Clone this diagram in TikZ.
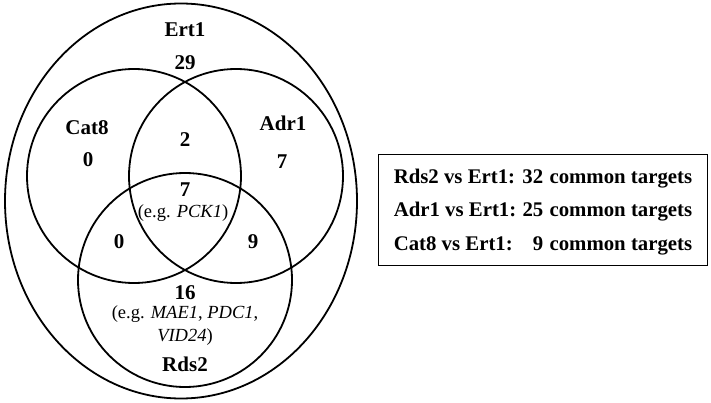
\documentclass[tikz,border=0pt]{standalone}
\usepackage{fontspec}
\setmainfont{Liberation Serif}
\usetikzlibrary{shapes.geometric}
\usetikzlibrary{positioning}

\begin{document}
\begin{tikzpicture}
  [x=1pt, y=1pt,
  set/.style={shape=circle, draw=black, line width=1.8pt,
         inner sep=0pt, minimum size=214pt},
  count/.style={font=\fontsize{21}{23}\selectfont\bfseries, inner sep=1pt},
  gene/.style={font=\fontsize{18.5}{23}\selectfont, align=center, inner sep=1pt}
  ]
  \useasboundingbox (0,0) rectangle (711,402);

  % the four sets
  \node (ert1) [shape=ellipse, draw=black, line width=1.8pt, inner sep=0pt,
        minimum width=352pt, minimum height=395pt] at (181, 201) {};
  \node (cat8) [set] at (134, 226) {};
  \node (adr1) [set] at (236, 226) {};
  \node (rds2) [set] at (185, 122) {};

  % set names and counts
  \node (ertname) [count] at (185, 372) {Ert1};
  \node (n29)     [count] at (185, 339) {29};
  \node (catname) [count] at (87, 274) {Cat8};
  \node (n0a)     [count] at (88, 242) {0};
  \node (adrname) [count] at (283, 279) {Adr1};
  \node (n7a)     [count] at (282, 240) {7};
  \node (n2)      [count] at (185, 262) {2};
  \node (n7b)     [count] at (185, 212) {7};
  \node (pck)     [gene] at (183, 189) {(e.g. \textit{PCK1})};
  \node (n0b)     [count] at (119, 160) {0};
  \node (n9)      [count] at (253, 160) {9};
  \node (n16)     [count] at (185, 109) {16};
  \node (mae)     [gene] at (185, 76) {(e.g. \textit{MAE1}, \textit{PDC1},\\ \textit{VID24})};
  \node (rdsname) [count] at (185, 38) {Rds2};

  % summary box
  \node (summary) [draw=black, line width=0.9pt, inner xsep=15pt, inner ysep=5pt,
        font=\fontsize{20.8}{22}\selectfont\bfseries] at (543, 192)
   {\renewcommand{\arraystretch}{1.52}%
    \begin{tabular}{@{}l@{\hspace{0.3em}}r@{\hspace{0.3em}}l@{}}
     Rds2 vs Ert1: & 32 & common targets\\
     Adr1 vs Ert1: & 25 & common targets\\
     Cat8 vs Ert1: & 9 & common targets
    \end{tabular}};

\end{tikzpicture}
\end{document}
